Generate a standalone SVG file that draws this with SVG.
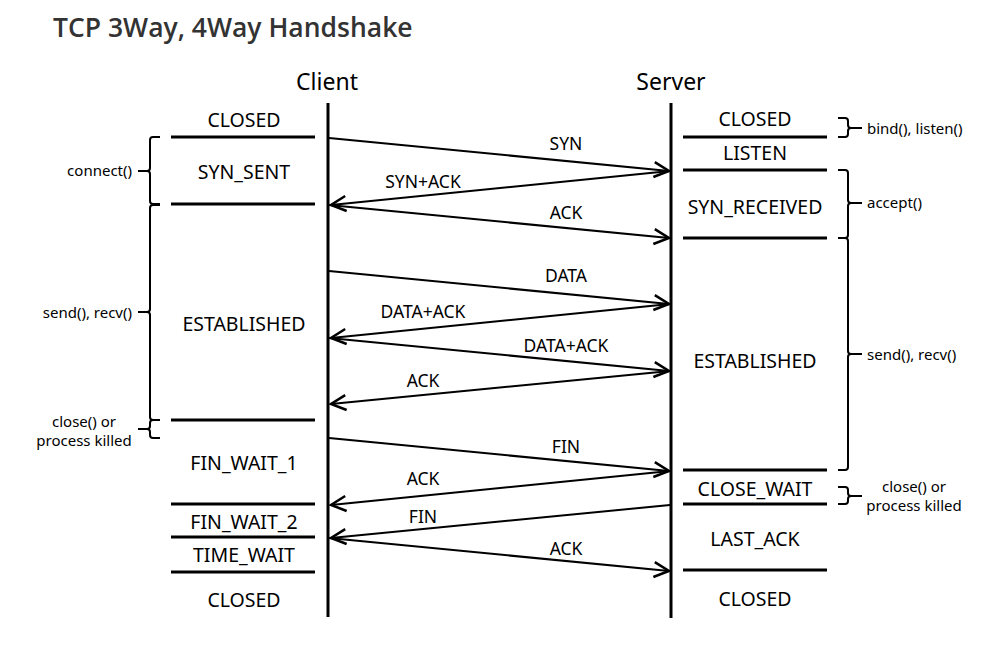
<svg xmlns="http://www.w3.org/2000/svg" width="983" height="655" viewBox="0 0 983 655">
<style>
text{font-family:"Noto Sans","Open Sans","DejaVu Sans",sans-serif;fill:#000}
.title{font-family:"Open Sans","Noto Sans",sans-serif;font-size:26.5px;font-weight:600;fill:#333}
.actor{font-size:23px;text-anchor:middle}
.state{font-size:19.5px;text-anchor:middle}
.msg{font-size:17.5px;text-anchor:middle}
.note{font-size:15px}
.life{stroke:#000;stroke-width:3}
.sline{stroke:#000;stroke-width:3}
.arr{stroke:#000;stroke-width:2;fill:none;marker-end:url(#ah)}
.brace{stroke:#000;stroke-width:2;fill:none}
</style>
<defs>
<marker id="ah" markerUnits="userSpaceOnUse" markerWidth="20" markerHeight="20" viewBox="-14 -8 16 16" refX="0" refY="0" orient="auto">
<path d="M-12,-6 L0,0 L-12,6" fill="none" stroke="#000" stroke-width="2"/>
</marker>
</defs>
<rect width="983" height="655" fill="#fff"/>
<text class="title" x="53" y="37">TCP 3Way, 4Way Handshake</text>

<g id="client">
<text class="actor" x="327" y="90">Client</text>
<line class="life" x1="328" y1="103" x2="328" y2="617"/>
</g>
<g id="server">
<text class="actor" x="671" y="90">Server</text>
<line class="life" x1="671" y1="103" x2="671" y2="618"/>
</g>

<g id="client-states">
<line class="sline" x1="171" y1="137" x2="315" y2="137"/>
<line class="sline" x1="171" y1="204" x2="315" y2="204"/>
<line class="sline" x1="171" y1="420" x2="315" y2="420"/>
<line class="sline" x1="171" y1="504" x2="315" y2="504"/>
<line class="sline" x1="171" y1="537" x2="315" y2="537"/>
<line class="sline" x1="171" y1="572" x2="315" y2="572"/>
<text class="state" x="244" y="126.5">CLOSED</text>
<text class="state" x="244" y="179">SYN_SENT</text>
<text class="state" x="244" y="330.5">ESTABLISHED</text>
<text class="state" x="244" y="469.5">FIN_WAIT_1</text>
<text class="state" x="244" y="528.5">FIN_WAIT_2</text>
<text class="state" x="244" y="561.5">TIME_WAIT</text>
<text class="state" x="244" y="606.5">CLOSED</text>
</g>

<g id="server-states">
<line class="sline" x1="683" y1="137" x2="827" y2="137"/>
<line class="sline" x1="683" y1="170" x2="827" y2="170"/>
<line class="sline" x1="683" y1="238" x2="827" y2="238"/>
<line class="sline" x1="683" y1="470" x2="827" y2="470"/>
<line class="sline" x1="683" y1="504" x2="827" y2="504"/>
<line class="sline" x1="683" y1="570" x2="827" y2="570"/>
<text class="state" x="755" y="126">CLOSED</text>
<text class="state" x="755" y="160">LISTEN</text>
<text class="state" x="755" y="213.5">SYN_RECEIVED</text>
<text class="state" x="755" y="367.5">ESTABLISHED</text>
<text class="state" x="755" y="495.5">CLOSE_WAIT</text>
<text class="state" x="755" y="545.5">LAST_ACK</text>
<text class="state" x="755" y="606">CLOSED</text>
</g>

<g id="connectors">
<line class="arr" x1="329" y1="138" x2="669" y2="171"/>
<line class="arr" x1="670" y1="171" x2="331" y2="205"/>
<line class="arr" x1="329" y1="205" x2="669" y2="238"/>
<line class="arr" x1="329" y1="271" x2="669" y2="304"/>
<line class="arr" x1="670" y1="304" x2="331" y2="338"/>
<line class="arr" x1="329" y1="338" x2="669" y2="371"/>
<line class="arr" x1="670" y1="371" x2="331" y2="404"/>
<line class="arr" x1="329" y1="438" x2="669" y2="471"/>
<line class="arr" x1="670" y1="471" x2="331" y2="505"/>
<line class="arr" x1="670" y1="505" x2="331" y2="538"/>
<line class="arr" x1="329" y1="538" x2="669" y2="571"/>
<text class="msg" x="566" y="150">SYN</text>
<text class="msg" x="423" y="188">SYN+ACK</text>
<text class="msg" x="566" y="219">ACK</text>
<text class="msg" x="566" y="282">DATA</text>
<text class="msg" x="423" y="318">DATA+ACK</text>
<text class="msg" x="566" y="352">DATA+ACK</text>
<text class="msg" x="423" y="387">ACK</text>
<text class="msg" x="566" y="453">FIN</text>
<text class="msg" x="423" y="485">ACK</text>
<text class="msg" x="423" y="523">FIN</text>
<text class="msg" x="566" y="555">ACK</text>
</g>

<g id="client-notes">
<path class="brace" d="M160,137 H153 Q150,137 150,140 V168 Q150,171 147,171 H138 M147,171 Q150,171 150,174 V201 Q150,204 153,204 H160"/>
<path class="brace" d="M160,205 H153 Q150,205 150,208 V309 Q150,312 147,312 H138 M147,312 Q150,312 150,315 V417 Q150,420 153,420 H160"/>
<path class="brace" d="M160,420 H153 Q150,420 150,423 V426 Q150,429 147,429 H138 M147,429 Q150,429 150,432 V435 Q150,438 153,438 H160"/>
<text class="note" x="132" y="175.5" text-anchor="end">connect()</text>
<text class="note" x="132" y="317.5" text-anchor="end">send(), recv()</text>
<text class="note" x="84" y="427" text-anchor="middle">close() or</text>
<text class="note" x="84" y="446" text-anchor="middle">process killed</text>
</g>

<g id="server-notes">
<path class="brace" d="M838,118 H845 Q848,118 848,121 V125 Q848,128 851,128 H862 M851,128 Q848,128 848,131 V134 Q848,137 845,137 H838"/>
<path class="brace" d="M838,170 H845 Q848,170 848,173 V200 Q848,203 851,203 H862 M851,203 Q848,203 848,206 V235 Q848,238 845,238 H838"/>
<path class="brace" d="M838,238 H845 Q848,238 848,241 V351 Q848,354 851,354 H862 M851,354 Q848,354 848,357 V467 Q848,470 845,470 H838"/>
<path class="brace" d="M838,487 H845 Q848,487 848,490 V493 Q848,496 851,496 H862 M851,496 Q848,496 848,499 V501 Q848,504 845,504 H838"/>
<text class="note" x="867" y="133.5">bind(), listen()</text>
<text class="note" x="867" y="207.5">accept()</text>
<text class="note" x="867" y="359.5">send(), recv()</text>
<text class="note" x="914" y="492" text-anchor="middle">close() or</text>
<text class="note" x="914" y="510.5" text-anchor="middle">process killed</text>
</g>
</svg>
